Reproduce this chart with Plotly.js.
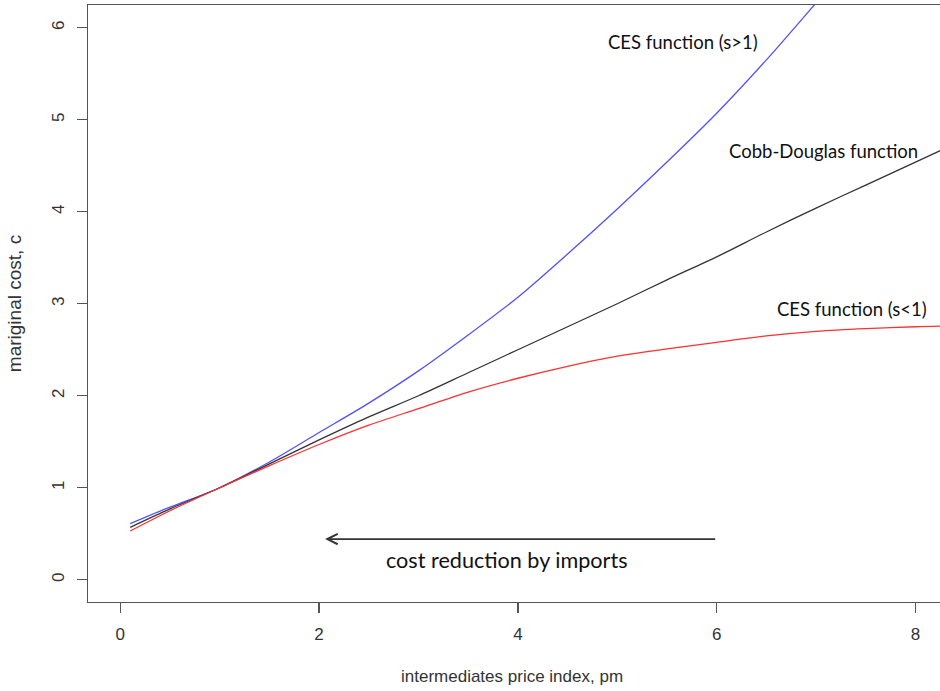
<!DOCTYPE html>
<html>
<head>
<meta charset="utf-8">
<script src="https://cdn.plot.ly/plotly-3.0.1.min.js"></script>
<style>
html, body { margin: 0; padding: 0; overflow: hidden; background: #fff; }
#chart { width: 960px; height: 691px; }
</style>
</head>
<body>
<div id="chart"></div>
<script>
// Price index of intermediates (x values)
const pm = [0.1, 0.5, 1, 1.5, 2, 2.5, 3, 3.5, 4, 4.5, 5, 5.5, 6, 6.5, 7, 7.5, 8, 8.5];
// Marginal cost, CES function (s>1)
const cesHigh = [0.61, 0.79, 1.0, 1.28, 1.6, 1.92, 2.27, 2.66, 3.07, 3.54, 4.03, 4.54, 5.07, 5.65, 6.27, 6.9, 7.55, 8.2];
// Marginal cost, Cobb-Douglas function
const cobbDouglas = [0.57, 0.77, 1.0, 1.26, 1.52, 1.77, 2.0, 2.25, 2.5, 2.75, 3.0, 3.26, 3.51, 3.78, 4.04, 4.29, 4.54, 4.79];
// Marginal cost, CES function (s<1)
const cesLow = [0.53, 0.75, 1.0, 1.24, 1.47, 1.68, 1.86, 2.04, 2.19, 2.32, 2.43, 2.51, 2.58, 2.65, 2.70, 2.73, 2.75, 2.76];

const xTicks = [0, 2, 4, 6, 8];
const yTicks = [0, 1, 2, 3, 4, 5, 6];

const labels = [
  {text: 'CES function (s>1)', x: 5.66, y: 5.84},
  {text: 'Cobb-Douglas function', x: 7.07, y: 4.66},
  {text: 'CES function (s<1)', x: 7.36, y: 2.94}
];

const lineShape = {shape: 'spline', smoothing: 0.8, width: 1.3};
const traces = [
  {x: pm, y: cesHigh, mode: 'lines', name: 'CES function (s>1)', line: Object.assign({color: '#5050ff'}, lineShape)},
  {x: pm, y: cobbDouglas, mode: 'lines', name: 'Cobb-Douglas function', line: Object.assign({color: '#333333'}, lineShape)},
  {x: pm, y: cesLow, mode: 'lines', name: 'CES function (s<1)', line: Object.assign({color: '#ff3030'}, lineShape)}
];

const axisFont = {family: '"Liberation Sans", Arial, sans-serif', size: 17, color: '#333'};

const annotations = labels.map(l => ({
  x: l.x, y: l.y, xref: 'x', yref: 'y', text: l.text, showarrow: false,
  xanchor: 'center', yanchor: 'middle',
  font: {family: 'Lato, "Open Sans", sans-serif', size: 18.5, color: '#111'}
}));
annotations.push({
  x: 2.06, y: 0.442, xref: 'x', yref: 'y', ax: 6.0, ay: 0.442, axref: 'x', ayref: 'y',
  text: '', showarrow: true, arrowhead: 5, arrowsize: 1.2, arrowwidth: 1.7, arrowcolor: '#333'
});
annotations.push({
  x: 3.89, y: 0.214, xref: 'x', yref: 'y', text: 'cost reduction by imports', showarrow: false,
  xanchor: 'center', yanchor: 'middle',
  font: {family: 'Lato, "Open Sans", sans-serif', size: 21.6, color: '#111'}
});
// x-axis title (centred under the visible plot region)
annotations.push({
  x: 0.4868, y: -0.1256, xref: 'paper', yref: 'paper', text: 'intermediates price index, pm',
  showarrow: false, xanchor: 'center', yanchor: 'middle', font: axisFont
});

const axisCommon = {
  showgrid: false, zeroline: false, showline: true, mirror: true,
  linecolor: '#555', linewidth: 1.3, ticks: 'outside', ticklen: 10, tickwidth: 1.3, tickcolor: '#555',
  tickfont: axisFont
};

const layout = {
  width: 960, height: 691,
  margin: {l: 88, r: 0, t: 5, b: 89},
  paper_bgcolor: '#fff', plot_bgcolor: '#fff',
  showlegend: false,
  xaxis: Object.assign({}, axisCommon, {
    range: [-0.325, 8.448], tickvals: xTicks, ticktext: xTicks.map(String),
    ticklabelstandoff: 6
  }),
  yaxis: Object.assign({}, axisCommon, {
    range: [-0.242, 6.247], tickvals: yTicks, ticktext: yTicks.map(String),
    tickangle: -90, ticklabelstandoff: 6,
    title: {text: 'mariginal cost, c', standoff: 22,
      font: {family: '"Liberation Sans", Arial, sans-serif', size: 19, color: '#333'}}
  }),
  annotations: annotations
};

Plotly.newPlot('chart', traces, layout, {displayModeBar: false, staticPlot: true});
</script>
</body>
</html>
